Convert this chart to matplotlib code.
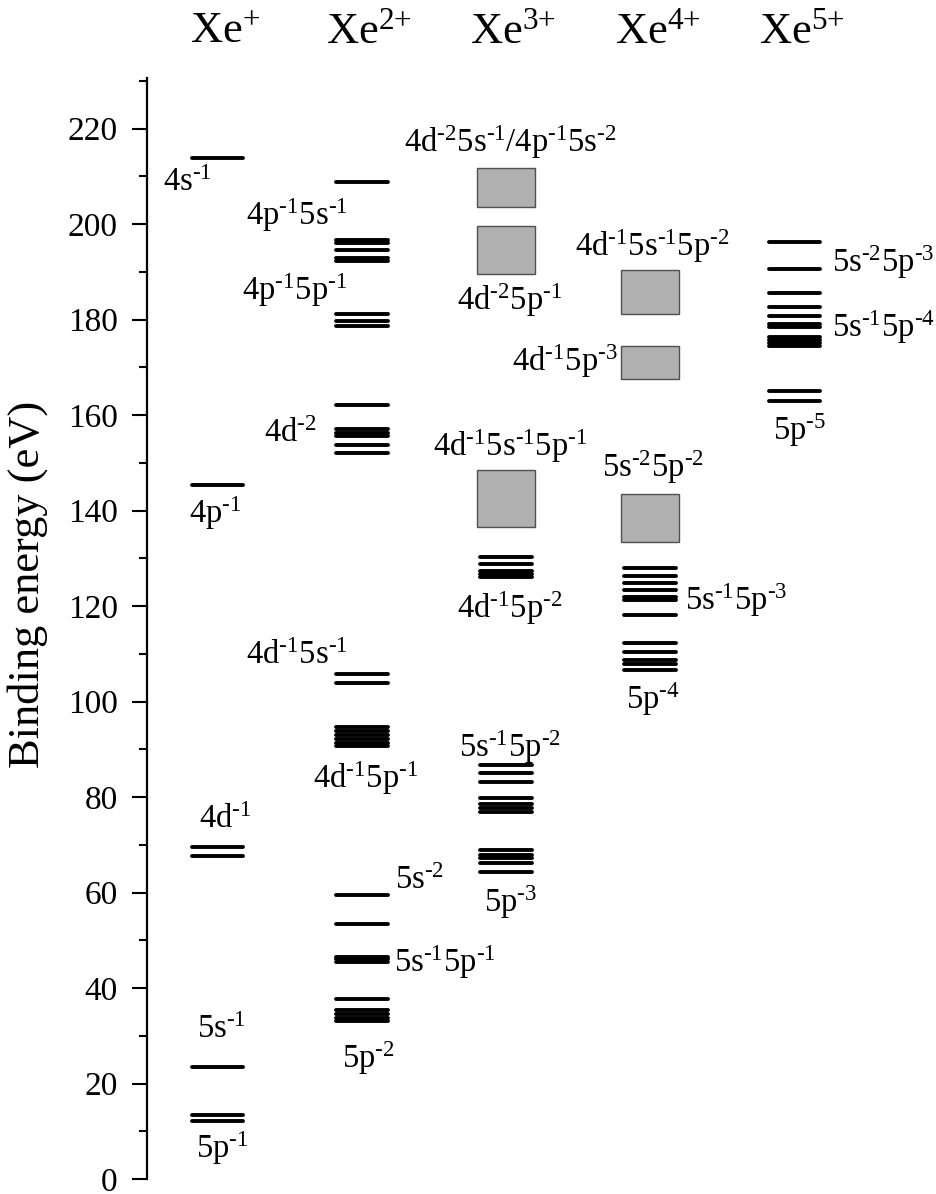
import matplotlib
matplotlib.use('Agg')
import matplotlib.pyplot as plt
from matplotlib.patches import Rectangle
from matplotlib.ticker import MultipleLocator

plt.rcParams['font.family'] = 'Liberation Serif'
plt.rcParams['mathtext.fontset'] = 'custom'
plt.rcParams['mathtext.rm'] = 'Liberation Serif'
plt.rcParams['mathtext.it'] = 'Liberation Serif:italic'
plt.rcParams['mathtext.default'] = 'regular'

# ---- data (binding energies, eV) ----
ions = ['Xe$^{+}$', 'Xe$^{2{+}}$', 'Xe$^{3{+}}$', 'Xe$^{4{+}}$', 'Xe$^{5{+}}$']

xe1_levels = [213.8, 145.3, 69.6, 67.6, 23.5, 13.4, 12.2]
xe2_levels = [208.8, 196.6, 196.0, 194.6, 193.0, 192.2,
              181.2, 179.6, 178.7,
              162.2, 157.0, 156.3, 155.6, 153.7, 152.1,
              105.8, 103.8,
              94.6, 93.8, 93.0, 92.2, 91.4, 90.6,
              59.5, 53.5, 46.5, 46.0, 45.5,
              37.7, 35.4, 34.6, 33.8, 33.1]
xe3_levels = [130.3, 128.8, 127.4, 126.7, 126.0,
              86.7, 85.0, 83.2, 79.9, 78.5, 77.8, 76.9,
              68.9, 67.9, 67.2, 66.1, 64.4]
xe4_levels = [127.9, 126.3, 124.9, 123.4, 121.9, 121.3, 118.1,
              112.2, 110.4, 108.7, 107.9, 106.6]
xe5_levels = [196.2, 190.7, 185.5, 182.7, 180.7, 179.1, 178.5,
              176.4, 175.7, 175.0, 174.5, 165.1, 163.0]

# bands drawn as grey boxes (low, high)
xe3_bands = [(203.6, 211.7), (189.5, 199.6), (136.5, 148.5)]
xe4_bands = [(181.2, 190.4), (167.5, 174.5), (133.4, 143.4)]

levels = [xe1_levels, xe2_levels, xe3_levels, xe4_levels, xe5_levels]
bands = [[], [], xe3_bands, xe4_bands, []]

# configuration labels: (column, text); "4d-1 5s-1" style
config_text = [
    (0, '4s-1'), (0, '4p-1'), (0, '4d-1'), (0, '5s-1'), (0, '5p-1'),
    (1, '4p-1 5s-1'), (1, '4p-1 5p-1'), (1, '4d-2'), (1, '4d-1 5s-1'),
    (1, '4d-1 5p-1'), (1, '5s-2'), (1, '5s-1 5p-1'), (1, '5p-2'),
    (2, '4d-2 5s-1/4p-1 5s-2'), (2, '4d-2 5p-1'), (2, '4d-1 5s-1 5p-1'),
    (2, '4d-1 5p-2'), (2, '5s-1 5p-2'), (2, '5p-3'),
    (3, '4d-1 5s-1 5p-2'), (3, '4d-1 5p-3'), (3, '5s-2 5p-2'),
    (3, '5s-1 5p-3'), (3, '5p-4'),
    (4, '5s-2 5p-3'), (4, '5s-1 5p-4'), (4, '5p-5'),
]
# label placement: (x offset from column, y, ha)
config_pos = [
    (-0.378, 208.6, 'left'), (-0.017, 139.5, 'center'), (0.05, 75.2, 'center'),
    (0.03, 31.2, 'center'), (0.03, 6.5, 'center'),
    (-0.102, 201.9, 'right'), (-0.102, 186.2, 'right'), (-0.31, 156.2, 'right'),
    (-0.102, 109.7, 'right'), (0.029, 84.0, 'center'), (0.23, 62.4, 'left'),
    (0.224, 45.4, 'left'), (0.043, 25.3, 'center'),
    (0.028, 217.2, 'center'), (0.028, 184.1, 'center'),
    (0.028, 153.5, 'center'), (0.028, 119.6, 'center'),
    (0.028, 90.5, 'center'), (0.028, 58.0, 'center'),
    (0.012, 195.4, 'center'), (-0.223, 171.3, 'right'),
    (0.019, 149.1, 'center'), (0.241, 121.3, 'left'), (0.019, 100.5, 'center'),
    (0.26, 192.0, 'left'), (0.26, 178.4, 'left'), (0.038, 156.9, 'center'),
]


def to_tex(cfg):
    # '4d-1 5s-1' -> 4d$^{\text{-1}}$5s$^{\text{-1}}$
    out = ''
    for part in cfg.split('/'):
        bits = []
        for orb in part.split():
            name, exp = orb[:2], orb[2:]
            bits.append(name + r'$^{\text{' + exp + '}}$')
        out += ('/' if out else '') + ''.join(bits)
    return out


# ---- figure ----
fig = plt.figure(figsize=(9.37, 11.94), dpi=100)
ax = fig.add_axes([147/937, 15/1194, 790/937, 1101/1194])

half = 0.18
for col, (lev, bnd) in enumerate(zip(levels, bands)):
    ax.hlines(lev, col - half, col + half, colors='black', lw=2.8,
              capstyle='round')
    for lo, hi in bnd:
        ax.add_patch(Rectangle((col - 0.2, lo), 0.4, hi - lo,
                               facecolor='#b0b0b0', edgecolor='#505050',
                               lw=1.0))
    ax.text(col + 0.05, 237.9, ions[col], ha='center', va='baseline',
            fontsize=32, clip_on=False)

for (col, cfg), (dx, y, ha) in zip(config_text, config_pos):
    ax.text(col + dx, y, to_tex(cfg), ha=ha, va='center', fontsize=23.5)

ax.set_xlim(-0.489, 4.988)
ax.set_ylim(0, 230.6)
for side in ['top', 'right', 'bottom']:
    ax.spines[side].set_visible(False)
ax.spines['left'].set_linewidth(1.6)
ax.set_xticks([])
ax.yaxis.set_major_locator(MultipleLocator(20))
ax.yaxis.set_minor_locator(MultipleLocator(10))
ax.tick_params(axis='y', which='major', direction='out', length=11,
               width=1.5, labelsize=24, pad=10)
ax.tick_params(axis='y', which='minor', direction='out', length=6,
               width=1.5)
ax.set_ylabel('Binding energy (eV)', fontsize=32)
ax.yaxis.set_label_coords(-0.125, 0.54)

fig.savefig('out.png', dpi=100)
